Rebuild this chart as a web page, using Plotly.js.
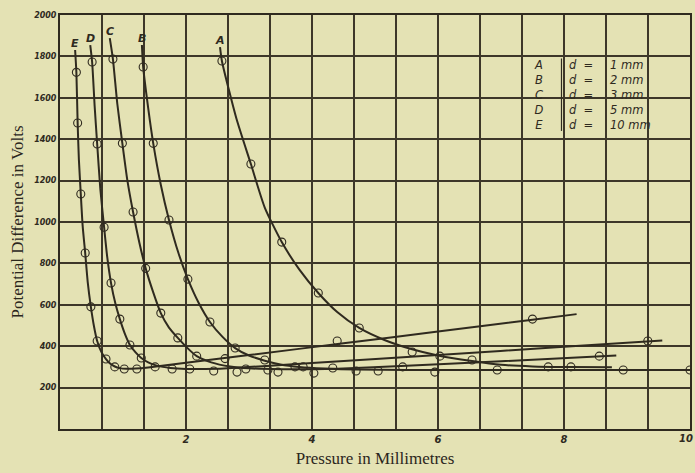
<!DOCTYPE html>
<html><head><meta charset="utf-8">
<script src="https://cdn.plot.ly/plotly-3.0.1.min.js"></script>
<style>html,body{margin:0;padding:0;background:#e4e2b4;}#chart{width:695px;height:473px;}</style>
</head><body><div id="chart"></div>
<script>
// Curve labels and gap widths
const curveNames = ["A", "B", "C", "D", "E"];
const gapLabels = ["1 mm", "2 mm", "3 mm", "5 mm", "10 mm"];

// Drawn (smoothed) curve paths
const lineA_x = [2.54, 2.57, 2.8, 3.03, 3.25, 3.52, 3.8, 4.1, 4.4, 4.75, 5.15, 5.59, 6.0, 6.54, 7.0, 7.5, 8.1, 8.76];
const lineA_y = [1845, 1778, 1500, 1280, 1070, 903, 770, 657, 565, 488, 430, 385, 355, 328, 310, 302, 299, 298];
const lineB_x = [1.30, 1.32, 1.40, 1.48, 1.60, 1.73, 1.88, 2.03, 2.2, 2.38, 2.58, 2.78, 3.0, 3.25, 3.5, 3.8, 4.2, 4.7, 5.5, 6.5, 8.0, 10];
const lineB_y = [1855, 1749, 1550, 1380, 1180, 1010, 850, 724, 610, 517, 445, 391, 355, 330, 312, 300, 292, 287, 285, 285, 285, 285];
const lineC_x = [0.79, 0.84, 0.91, 0.99, 1.07, 1.16, 1.26, 1.36, 1.48, 1.60, 1.73, 1.87, 2.02, 2.17, 2.4, 2.7, 3.0, 3.5, 4.0, 4.4, 5.5, 7.0, 8.83];
const lineC_y = [1888, 1787, 1570, 1380, 1200, 1048, 900, 776, 660, 560, 490, 440, 392, 352, 322, 302, 293, 289, 289, 291, 305, 327, 355];
const lineD_x = [0.48, 0.51, 0.55, 0.59, 0.64, 0.70, 0.75, 0.81, 0.88, 0.95, 1.03, 1.11, 1.2, 1.29, 1.4, 1.55, 1.75, 2.0, 2.3, 2.6, 4.0, 6.0, 8.0, 9.56];
const lineD_y = [1855, 1773, 1560, 1377, 1160, 975, 830, 705, 605, 531, 460, 406, 370, 343, 322, 305, 295, 290, 290, 292, 319, 358, 397, 428];
const lineE_x = [0.24, 0.26, 0.28, 0.30, 0.33, 0.36, 0.40, 0.44, 0.49, 0.54, 0.59, 0.66, 0.73, 0.80, 0.87, 0.95, 1.05, 1.2, 1.4, 2.0, 3.0, 4.5, 6.0, 7.5, 8.2];
const lineE_y = [1831, 1723, 1478, 1300, 1135, 980, 850, 710, 590, 495, 425, 370, 338, 315, 302, 294, 291, 292, 297, 320, 357, 414, 471, 528, 555];

// Observed points (open circles)
const ptsA_x = [2.57, 3.03, 3.52, 4.1, 4.75, 5.59, 6.54, 7.75, 8.11];
const ptsA_y = [1778, 1280, 903, 657, 488, 372, 333, 300, 300];
const ptsB_x = [1.32, 1.48, 1.73, 2.03, 2.38, 2.78, 3.25, 3.73, 3.86, 4.7, 5.95, 6.94, 8.94, 10];
const ptsB_y = [1749, 1380, 1010, 724, 517, 391, 333, 300, 300, 280, 275, 285, 285, 285];
const ptsC_x = [0.84, 0.99, 1.16, 1.36, 1.60, 1.87, 2.17, 2.81, 2.95, 3.3, 3.46, 4.03, 4.33, 5.05, 5.44, 8.56];
const ptsC_y = [1787, 1380, 1048, 776, 560, 440, 352, 275, 290, 285, 275, 270, 295, 280, 300, 352];
const ptsD_x = [0.51, 0.59, 0.70, 0.81, 0.95, 1.11, 1.29, 1.78, 2.06, 2.44, 6.03, 9.33];
const ptsD_y = [1773, 1377, 975, 705, 531, 406, 343, 290, 290, 280, 352, 425];
const ptsE_x = [0.26, 0.28, 0.33, 0.40, 0.49, 0.59, 0.73, 0.87, 1.02, 1.22, 1.51, 2.62, 4.4, 7.5];
const ptsE_y = [1723, 1478, 1135, 850, 590, 425, 338, 300, 290, 290, 300, 340, 425, 531];

// Axis tick labels
const xLabelVals = [2, 4, 6, 8, 10];
const yLabelVals = [200, 400, 600, 800, 1000, 1200, 1400, 1600, 1800, 2000];
const xGridStep = 2 / 3;
const xMax = 10, yMax = 2000;

const ink = "#2f2a1f";
const gridInk = "#3d3729";
const tickFont = {family: "DejaVu Sans", size: 10, color: ink, style: "italic", weight: "bold"};
const lines = [[lineA_x, lineA_y], [lineB_x, lineB_y], [lineC_x, lineC_y], [lineD_x, lineD_y], [lineE_x, lineE_y]];
const pts = [[ptsA_x, ptsA_y], [ptsB_x, ptsB_y], [ptsC_x, ptsC_y], [ptsD_x, ptsD_y], [ptsE_x, ptsE_y]];

const traces = [];
lines.forEach((l, i) => {
  traces.push({x: l[0], y: l[1], mode: "lines", type: "scatter", name: curveNames[i],
    line: {color: ink, width: 2, shape: "spline", smoothing: 0.6}, hoverinfo: "skip"});
});
pts.forEach((p, i) => {
  traces.push({x: p[0], y: p[1], mode: "markers", type: "scatter", name: curveNames[i] + " pts",
    marker: {symbol: "circle-open", size: 8, color: ink, line: {width: 1.1, color: ink}}});
});

// x grid ticks every 2/3 mm, labelled only at even millimetres (edge label drawn as annotation)
const xTickVals = [], xTickText = [];
for (let k = 0; k * xGridStep <= xMax + 1e-9; k++) {
  const v = k * xGridStep;
  xTickVals.push(v);
  const lab = xLabelVals.find(t => Math.abs(t - v) < 1e-6 && t < xMax);
  xTickText.push(lab !== undefined ? String(lab) : "");
}

const annotations = [];
// label at the right edge of the x axis
xLabelVals.filter(t => t >= xMax).forEach(t => {
  annotations.push({x: t, y: 0, xref: "x", yref: "y", text: String(t), showarrow: false,
    xanchor: "right", yanchor: "top", xshift: 5, yshift: -2, font: tickFont});
});
// curve letters at the top of each curve
lines.forEach((l, i) => {
  annotations.push({x: l[0][0], y: l[1][0], xref: "x", yref: "y", text: curveNames[i], showarrow: false,
    yanchor: "bottom", yshift: -2, font: {family: "DejaVu Sans", size: 11, color: ink, style: "italic", weight: "bold"}});
});
// key box text
annotations.push({x: 7.6, y: 1800, xref: "x", yref: "y", xanchor: "center", yanchor: "top", align: "center",
  text: curveNames.join("<br>"), showarrow: false,
  font: {family: "DejaVu Sans", size: 11.5, color: ink, style: "italic"}});
annotations.push({x: 8.05, y: 1800, xref: "x", yref: "y", xanchor: "left", yanchor: "top", align: "left",
  text: curveNames.map(() => "d  =").join("<br>"), showarrow: false,
  font: {family: "DejaVu Sans", size: 11.5, color: ink, style: "italic"}});
annotations.push({x: 8.7, y: 1800, xref: "x", yref: "y", xanchor: "left", yanchor: "top", align: "left",
  text: gapLabels.join("<br>"), showarrow: false,
  font: {family: "DejaVu Sans", size: 11.5, color: ink, style: "italic"}});

const layout = {
  width: 695, height: 473,
  margin: {l: 60, r: 5, t: 15, b: 44},
  paper_bgcolor: "#e4e2b4", plot_bgcolor: "#e4e2b4",
  showlegend: false,
  xaxis: {range: [0, xMax], tickmode: "array", tickvals: xTickVals, ticktext: xTickText,
    showgrid: true, gridcolor: gridInk, gridwidth: 2, zeroline: false,
    showline: true, linecolor: ink, linewidth: 2, mirror: true, ticks: "",
    tickfont: tickFont,
    title: {text: "Pressure in Millimetres", standoff: 8,
      font: {family: "Liberation Serif", size: 17, color: "#2b261c"}}},
  yaxis: {range: [0, yMax], tickmode: "array", tickvals: yLabelVals, ticktext: yLabelVals.map(String),
    ticklabeloverflow: "allow",
    showgrid: true, gridcolor: gridInk, gridwidth: 2, zeroline: false,
    showline: true, linecolor: ink, linewidth: 2, mirror: true, ticks: "",
    tickfont: {family: "DejaVu Sans", size: 8, color: ink, style: "italic", weight: "bold"},
    title: {text: "Potential Difference in Volts", standoff: 6,
      font: {family: "Liberation Serif", size: 17, color: "#2b261c"}}},
  shapes: [{type: "line", xref: "x", yref: "y", x0: 7.96, x1: 7.96, y0: 1440, y1: 1790,
    line: {color: ink, width: 1.2}}],
  annotations: annotations
};
Plotly.newPlot("chart", traces, layout, {displayModeBar: false, staticPlot: true});
</script></body></html>
